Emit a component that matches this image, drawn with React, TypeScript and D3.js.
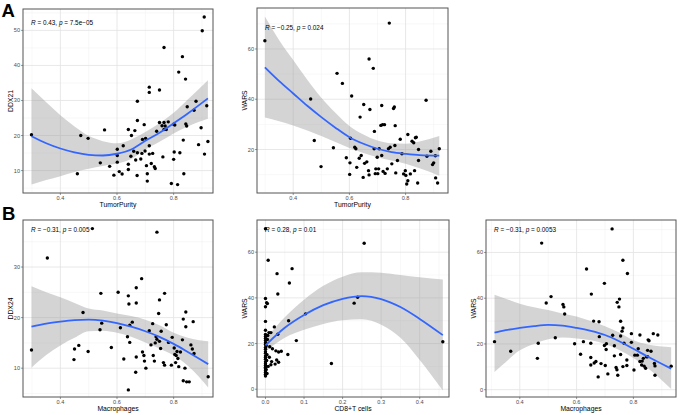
import React from "react";
import * as d3 from "d3";

type Pt = [number, number];
type Fit = [number, number, number, number]; // x, fit, lower, upper

// ---------- Panel A1: TumorPurity vs DDX21 ----------
const a1Points: Pt[] = [
  [0.298,20.2],[0.472,20.0],[0.498,19.2],[0.46,9.1],[0.556,21.6],[0.541,12.2],[0.574,11.2],[0.589,8.7],
  [0.601,16.1],[0.601,14.3],[0.601,12.4],[0.622,17.1],[0.608,9.7],[0.618,9.0],[0.64,21.7],[0.651,20.0],
  [0.663,21.4],[0.64,11.8],[0.64,10.3],[0.649,14.1],[0.666,13.0],[0.671,8.6],[0.672,29.8],[0.672,24.3],
  [0.672,15.1],[0.684,13.3],[0.69,18.9],[0.688,14.9],[0.696,23.1],[0.699,15.6],[0.704,11.4],[0.707,9.1],
  [0.707,7.0],[0.714,33.8],[0.714,32.3],[0.714,17.1],[0.714,14.7],[0.721,12.0],[0.726,14.9],[0.732,11.1],
  [0.735,10.6],[0.74,21.2],[0.75,33.0],[0.75,23.7],[0.759,22.8],[0.766,45.1],[0.766,23.7],[0.766,21.7],
  [0.762,13.9],[0.77,22.7],[0.774,21.7],[0.781,23.9],[0.792,6.3],[0.8,23.2],[0.804,23.0],[0.802,15.3],
  [0.8,13.2],[0.814,6.0],[0.818,38.1],[0.822,15.1],[0.831,42.5],[0.834,18.7],[0.836,9.1],[0.842,36.1],
  [0.843,23.3],[0.846,22.7],[0.848,28.2],[0.872,27.2],[0.879,29.8],[0.888,17.4],[0.897,22.2],[0.901,49.9],
  [0.908,53.8],[0.909,14.7],[0.917,28.5],[0.921,18.3],[0.659,15.5],[0.701,19.2]
];
const a1Fit: Fit[] = [
  [0.298,19.8,6.0,33.5],[0.35,17.8,7.3,29.5],[0.4,16.3,8.4,25.8],[0.45,15.2,9.6,22.6],[0.5,14.5,10.5,19.9],
  [0.55,14.3,11.3,18.4],[0.6,14.8,12.0,17.8],[0.65,16.0,13.3,18.9],[0.7,18.5,16.0,21.0],[0.75,20.8,18.2,23.5],
  [0.8,23.5,20.6,26.5],[0.85,26.3,22.6,30.3],[0.921,30.6,24.8,35.8]
];

// ---------- Panel A2: TumorPurity vs WARS ----------
const a2Points: Pt[] = [
  [0.299,63.3],[0.462,40.1],[0.475,23.6],[0.499,13.2],[0.543,20.7],[0.556,50.3],[0.575,46.3],[0.589,16.7],
  [0.604,24.5],[0.602,14.7],[0.601,10.1],[0.608,41.3],[0.619,20.9],[0.623,20.3],[0.626,12.9],[0.635,16.5],
  [0.642,17.6],[0.638,32.9],[0.651,37.9],[0.649,8.9],[0.654,14.5],[0.662,15.1],[0.668,11.6],[0.67,56.0],
  [0.673,35.9],[0.67,9.9],[0.685,52.3],[0.689,27.2],[0.688,20.3],[0.694,12.3],[0.699,16.9],[0.692,10.4],
  [0.701,10.4],[0.704,12.3],[0.706,20.3],[0.712,29.6],[0.715,37.5],[0.718,29.9],[0.715,17.6],[0.72,11.3],
  [0.725,29.9],[0.727,10.5],[0.735,12.3],[0.739,20.3],[0.745,20.9],[0.751,14.3],[0.742,70.3],[0.757,36.3],
  [0.76,36.9],[0.763,29.5],[0.762,21.6],[0.765,10.7],[0.771,15.6],[0.781,24.1],[0.787,18.3],[0.793,10.3],
  [0.799,11.6],[0.801,9.7],[0.804,6.3],[0.808,26.0],[0.808,7.6],[0.817,10.3],[0.823,23.3],[0.829,22.7],
  [0.832,11.6],[0.835,24.7],[0.838,24.9],[0.843,6.7],[0.846,20.0],[0.846,15.6],[0.873,39.6],[0.876,17.3],
  [0.89,19.3],[0.896,14.0],[0.9,14.7],[0.906,17.5],[0.907,8.7],[0.914,6.7],[0.92,20.3]
];
const a2Fit: Fit[] = [
  [0.299,52.7,32.7,72.9],[0.35,47.2,31.2,63.5],[0.4,42.3,29.6,55.6],[0.45,37.4,27.6,47.8],[0.5,32.9,25.4,40.6],
  [0.55,28.7,23.0,34.6],[0.6,24.9,20.6,29.4],[0.65,22.3,18.6,26.0],[0.7,20.3,16.9,23.6],[0.75,19.0,15.6,22.5],
  [0.8,18.3,14.3,22.3],[0.85,17.8,12.5,23.2],[0.92,17.6,9.6,25.4]
];

// ---------- Panel B1: Macrophages vs DDX24 ----------
const b1Points: Pt[] = [
  [0.298,13.6],[0.354,31.8],[0.513,37.6],[0.741,36.9],[0.48,21.0],[0.45,13.8],[0.465,14.5],[0.448,11.7],
  [0.498,13.3],[0.543,24.8],[0.54,17.6],[0.546,18.9],[0.58,14.1],[0.604,25.0],[0.612,18.0],[0.624,11.8],
  [0.64,24.3],[0.642,22.7],[0.637,16.2],[0.645,15.1],[0.645,18.5],[0.654,19.1],[0.64,5.7],[0.668,25.9],
  [0.668,22.9],[0.668,12.2],[0.666,9.2],[0.687,27.7],[0.69,13.2],[0.695,12.5],[0.697,11.4],[0.702,10.0],
  [0.714,17.4],[0.72,14.6],[0.726,18.8],[0.728,12.5],[0.732,11.4],[0.735,15.0],[0.738,16.2],[0.741,15.7],
  [0.747,20.8],[0.75,23.5],[0.75,15.3],[0.756,17.3],[0.754,13.9],[0.768,24.8],[0.764,11.1],[0.768,10.6],
  [0.774,18.6],[0.782,15.1],[0.792,10.6],[0.795,16.1],[0.804,12.7],[0.807,11.1],[0.809,12.5],[0.812,13.3],
  [0.815,11.9],[0.818,10.3],[0.824,13.2],[0.831,15.6],[0.834,19.7],[0.834,7.5],[0.84,10.0],[0.843,21.1],
  [0.843,18.2],[0.846,7.3],[0.855,7.3],[0.861,14.6],[0.866,13.8],[0.869,19.2],[0.872,12.9],[0.922,8.3],
  [0.802,14.0]
];
const b1Fit: Fit[] = [
  [0.298,18.2,10.1,26.2],[0.35,18.8,12.6,25.0],[0.4,19.2,14.5,24.0],[0.45,19.5,16.0,22.9],[0.5,19.6,17.3,21.8],
  [0.55,19.4,17.4,21.4],[0.6,18.9,17.0,20.8],[0.65,18.2,16.2,20.3],[0.7,17.3,15.1,19.6],[0.75,16.2,13.9,18.5],
  [0.8,14.8,12.5,17.0],[0.85,13.2,10.5,16.0],[0.922,10.8,6.2,15.3]
];

// ---------- Panel B2: CD8+T cells vs WARS ----------
const b2Points: Pt[] = [
  [0.0,70.3],[0.007,56.5],[0.03,50.6],[0.069,52.8],[0.032,41.7],[0.062,46.5],[0.0,39.7],[0.003,37.9],
  [0.005,37.5],[0.0,36.1],[0.0,29.7],[0.06,30.0],[0.104,33.0],[0.23,37.7],[0.239,40.3],[0.256,63.9],
  [0.023,27.3],[0.0,25.8],[0.009,24.8],[0.014,24.8],[0.032,24.1],[0.08,21.3],[0.058,15.2],[0.171,11.3],
  [0.46,20.8],[0.018,17.7],[0.027,16.8],[0.034,16.3],[0.041,16.6],[0.029,12.8],[0.016,12.1],[0.014,10.7],
  [0.025,11.0],[0.007,10.0],[0.034,11.8],
  [0.0,5.8],[0.0,6.6],[0.0,7.3],[0.0,8.1],[0.0,9.0],[0.0,9.6],[0.0,10.4],[0.0,11.2],[0.0,12.0],[0.0,13.1],
  [0.0,13.9],[0.0,14.6],[0.0,15.8],[0.0,16.4],[0.0,17.5],[0.0,18.3],[0.0,19.6],[0.0,20.4],[0.0,21.3],
  [0.0,22.2],[0.0,23.1],[0.0,24.0],[0.002,8.6],[0.003,12.6],[0.004,15.1],[0.002,19.0],[0.005,21.8],
  [0.006,23.5],[0.004,6.9],[0.01,14.0],[0.011,18.6]
];
const b2Fit: Fit[] = [
  [0.0,19.2,16.5,22.0],[0.05,26.9,22.5,31.5],[0.1,32.5,26.0,39.2],[0.15,36.8,28.6,45.3],[0.2,39.6,30.2,49.3],
  [0.25,40.8,30.6,51.2],[0.3,39.5,28.2,51.0],[0.35,36.0,22.5,50.0],[0.4,30.8,12.8,49.0],[0.46,23.7,-0.6,48.0]
];

// ---------- Panel B3: Macrophages vs WARS ----------
const b3Points: Pt[] = [
  [0.311,21.0],[0.368,16.8],[0.462,13.7],[0.465,20.3],[0.477,64.1],[0.493,37.9],[0.51,40.7],[0.525,22.7],
  [0.552,37.3],[0.555,36.2],[0.558,33.1],[0.593,20.1],[0.614,15.5],[0.624,21.0],[0.635,52.8],[0.652,41.8],
  [0.65,20.3],[0.65,14.1],[0.65,10.8],[0.66,30.0],[0.662,11.7],[0.668,12.3],[0.679,29.7],[0.68,23.2],
  [0.676,5.6],[0.686,11.4],[0.698,46.5],[0.698,19.3],[0.701,10.6],[0.704,17.6],[0.705,20.1],[0.71,6.9],
  [0.725,70.3],[0.727,23.8],[0.733,19.2],[0.733,14.8],[0.739,9.7],[0.742,8.7],[0.743,38.2],[0.749,36.2],
  [0.745,6.3],[0.751,39.6],[0.755,29.9],[0.76,25.6],[0.755,23.5],[0.755,15.4],[0.763,56.6],[0.763,27.0],
  [0.767,20.3],[0.763,10.1],[0.777,13.0],[0.779,50.8],[0.777,10.6],[0.793,24.5],[0.793,20.7],[0.802,8.6],
  [0.805,15.1],[0.814,15.1],[0.817,17.9],[0.823,23.9],[0.823,12.3],[0.829,10.8],[0.831,12.5],[0.835,13.7],
  [0.838,10.3],[0.843,9.4],[0.846,14.4],[0.85,17.2],[0.852,21.8],[0.855,21.4],[0.862,16.8],[0.87,24.5],
  [0.874,11.5],[0.876,10.4],[0.876,6.3],[0.886,23.9],[0.933,10.3],[0.85,14.4]
];
const b3Fit: Fit[] = [
  [0.311,24.9,7.7,41.5],[0.35,26.0,12.0,39.8],[0.4,27.0,17.2,37.6],[0.45,27.8,20.0,36.0],[0.5,28.3,22.1,34.8],
  [0.55,28.0,22.8,33.3],[0.6,27.0,22.4,32.0],[0.65,25.7,21.6,30.0],[0.7,23.9,20.0,27.7],[0.75,21.2,17.3,25.0],
  [0.8,17.9,13.9,21.6],[0.85,14.5,9.5,19.8],[0.933,9.2,0.3,18.6]
];

// ---------- labels ----------
const panelLetters = ["A", "B"];
const xTitles = ["TumorPurity", "TumorPurity", "Macrophages", "CD8+T cells", "Macrophages"];
const yTitles = ["DDX21", "WARS", "DDX24", "WARS", "WARS"];
const rValues = ["0.43", "\u22120.25", "\u22120.31", "0.28", "\u22120.31"];
const pValues = ["7.5e\u221205", "0.024", "0.005", "0.01", "0.0053"];
const purityTicks = [0.4, 0.6, 0.8];
const purityMinor = [0.3, 0.5, 0.7, 0.9];
const cd8Ticks = [0.0, 0.1, 0.2, 0.3, 0.4];
const cd8Minor = [0.05, 0.15, 0.25, 0.35, 0.45];
const ddx21Ticks = [10, 20, 30, 40, 50];
const ddx21Minor = [5, 15, 25, 35, 45, 55];
const ddx24Ticks = [10, 20, 30];
const ddx24Minor = [5, 15, 25, 35];
const warsTicksA = [20, 40, 60];
const warsTicksB = [0, 20, 40, 60];
const warsMinor = [10, 30, 50, 70];

const FONT = "'Liberation Sans', Arial, Helvetica, sans-serif";

interface PanelSpec {
  id: string;
  x0: number; x1: number; y0: number; y1: number;
  xDomain: [number, number]; yDomain: [number, number];
  xTicks: number[]; xMinor: number[]; yTicks: number[]; yMinor: number[];
  xFmt: (v: number) => string;
  points: Pt[]; fit: Fit[];
  idx: number;
  labelDx: number; labelDy: number;
}

function Panel({ s }: { s: PanelSpec }) {
  const x = d3.scaleLinear().domain(s.xDomain).range([s.x0, s.x1]);
  const y = d3.scaleLinear().domain(s.yDomain).range([s.y1, s.y0]);
  const area = d3.area<Fit>().x(d => x(d[0])).y0(d => y(d[2])).y1(d => y(d[3])).curve(d3.curveMonotoneX);
  const line = d3.line<Fit>().x(d => x(d[0])).y(d => y(d[1])).curve(d3.curveMonotoneX);
  const cx = (s.x0 + s.x1) / 2;
  const cy = (s.y0 + s.y1) / 2;
  const clip = `clip-${s.id}`;
  return (
    <g>
      <defs>
        <clipPath id={clip}>
          <rect x={s.x0} y={s.y0} width={s.x1 - s.x0} height={s.y1 - s.y0} />
        </clipPath>
      </defs>
      <rect x={s.x0} y={s.y0} width={s.x1 - s.x0} height={s.y1 - s.y0} fill="#fff" />
      {s.xMinor.map(v => (
        <line key={"xm" + v} x1={x(v)} x2={x(v)} y1={s.y0} y2={s.y1} stroke="#f0f0f0" strokeWidth={0.5} />
      ))}
      {s.yMinor.map(v => (
        <line key={"ym" + v} x1={s.x0} x2={s.x1} y1={y(v)} y2={y(v)} stroke="#f0f0f0" strokeWidth={0.5} />
      ))}
      {s.xTicks.map(v => (
        <line key={"xg" + v} x1={x(v)} x2={x(v)} y1={s.y0} y2={s.y1} stroke="#e2e2e2" strokeWidth={0.8} />
      ))}
      {s.yTicks.map(v => (
        <line key={"yg" + v} x1={s.x0} x2={s.x1} y1={y(v)} y2={y(v)} stroke="#e2e2e2" strokeWidth={0.8} />
      ))}
      <g clipPath={`url(#${clip})`}>
        <path d={area(s.fit) || ""} fill="#999999" fillOpacity={0.42} />
        {s.points.map((p, i) => (
          <circle key={i} cx={x(p[0])} cy={y(p[1])} r={1.7} fill="#000" />
        ))}
        <path d={line(s.fit) || ""} fill="none" stroke="#3366FF" strokeWidth={1.8} />
      </g>
      <rect x={s.x0} y={s.y0} width={s.x1 - s.x0} height={s.y1 - s.y0} fill="none" stroke="#555" strokeWidth={1} />
      {s.xTicks.map(v => (
        <g key={"xt" + v}>
          <line x1={x(v)} x2={x(v)} y1={s.y1} y2={s.y1 + 2} stroke="#555" strokeWidth={0.6} />
          <text x={x(v)} y={s.y1 + 6.8} fontSize={5.6} fill="#4d4d4d" textAnchor="middle" fontFamily={FONT}>{s.xFmt(v)}</text>
        </g>
      ))}
      {s.yTicks.map(v => (
        <g key={"yt" + v}>
          <line x1={s.x0 - 2} x2={s.x0} y1={y(v)} y2={y(v)} stroke="#555" strokeWidth={0.6} />
          <text x={s.x0 - 3} y={y(v) + 2} fontSize={5.6} fill="#4d4d4d" textAnchor="end" fontFamily={FONT}>{v}</text>
        </g>
      ))}
      <text x={cx} y={s.y1 + 14} fontSize={6.8} fill="#000" textAnchor="middle" fontFamily={FONT}>{xTitles[s.idx]}</text>
      <text transform={`translate(${s.x0 - 10.5},${cy}) rotate(-90)`} fontSize={6.8} fill="#000" textAnchor="middle" fontFamily={FONT}>{yTitles[s.idx]}</text>
      <text x={s.x0 + s.labelDx} y={s.y0 + s.labelDy} fontSize={6.4} fill="#000" fontFamily={FONT}>
        <tspan fontStyle="italic">R</tspan>
        {" = " + rValues[s.idx] + ", "}
        <tspan fontStyle="italic">p</tspan>
        {" = " + pValues[s.idx]}
      </text>
    </g>
  );
}

const f1 = (v: number) => d3.format(".1f")(v);

export default function App() {
  const specs: PanelSpec[] = [
    { id: "a1", x0: 23, x1: 213, y0: 9, y1: 193, xDomain: [0.268, 0.939], yDomain: [3.6, 56.1],
      xTicks: purityTicks, xMinor: purityMinor, yTicks: ddx21Ticks, yMinor: ddx21Minor, xFmt: f1,
      points: a1Points, fit: a1Fit, idx: 0, labelDx: 8, labelDy: 16 },
    { id: "a2", x0: 257, x1: 448, y0: 8, y1: 193, xDomain: [0.271, 0.951], yDomain: [2.7, 76.3],
      xTicks: purityTicks, xMinor: purityMinor, yTicks: warsTicksA, yMinor: warsMinor, xFmt: f1,
      points: a2Points, fit: a2Fit, idx: 1, labelDx: 8, labelDy: 22 },
    { id: "b1", x0: 23, x1: 213, y0: 220, y1: 397, xDomain: [0.268, 0.939], yDomain: [4.3, 39.3],
      xTicks: purityTicks, xMinor: purityMinor, yTicks: ddx24Ticks, yMinor: ddx24Minor, xFmt: f1,
      points: b1Points, fit: b1Fit, idx: 2, labelDx: 8, labelDy: 12 },
    { id: "b2", x0: 257, x1: 449, y0: 220, y1: 397, xDomain: [-0.022, 0.476], yDomain: [-3.4, 74.1],
      xTicks: cd8Ticks, xMinor: cd8Minor, yTicks: warsTicksB, yMinor: warsMinor, xFmt: f1,
      points: b2Points, fit: b2Fit, idx: 3, labelDx: 8, labelDy: 12 },
    { id: "b3", x0: 486, x1: 676, y0: 220, y1: 397, xDomain: [0.281, 0.95], yDomain: [-3.2, 74.2],
      xTicks: purityTicks, xMinor: purityMinor, yTicks: warsTicksB, yMinor: warsMinor, xFmt: f1,
      points: b3Points, fit: b3Fit, idx: 4, labelDx: 8, labelDy: 12 },
  ];
  return (
    <svg width={680} height={415} style={{ position: "absolute", left: 0, top: 0, background: "#fff" }}
      xmlns="http://www.w3.org/2000/svg">
      <rect x={0} y={0} width={680} height={415} fill="#fff" />
      {specs.map(s => <Panel key={s.id} s={s} />)}
      <text x={1.5} y={17} fontSize={18.5} fontWeight="bold" fontFamily={FONT}>{panelLetters[0]}</text>
      <text x={2} y={219.5} fontSize={18.5} fontWeight="bold" fontFamily={FONT}>{panelLetters[1]}</text>
    </svg>
  );
}
